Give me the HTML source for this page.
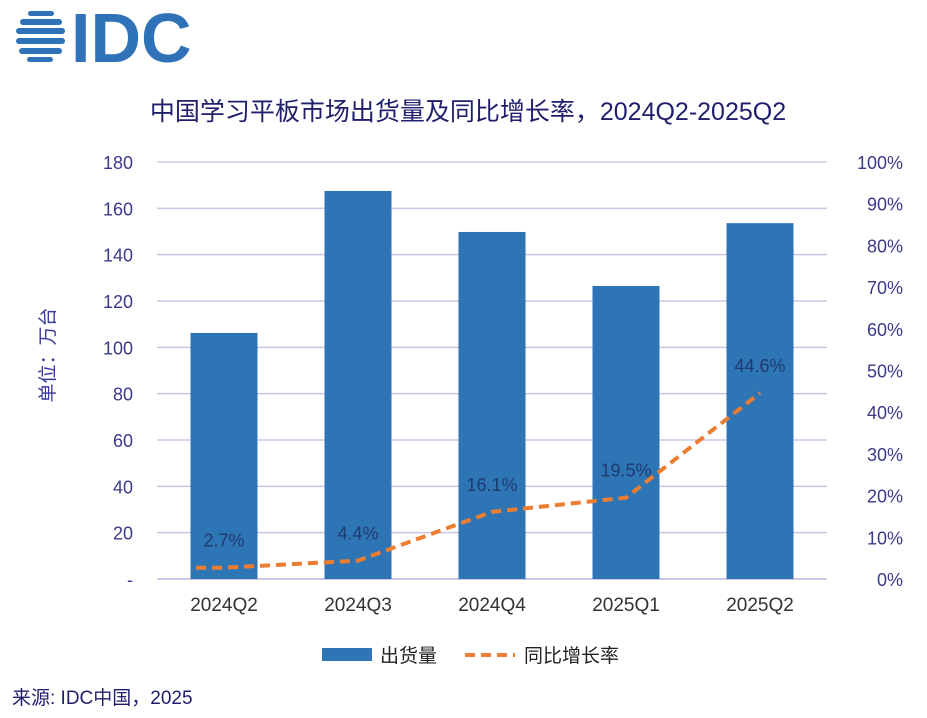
<!DOCTYPE html>
<html><head><meta charset="utf-8"><style>
body{margin:0;background:#fff;width:927px;height:713px;overflow:hidden;font-family:"Liberation Sans","Noto Sans CJK SC",sans-serif}
</style></head><body>
<svg width="927" height="713" viewBox="0 0 927 713" xmlns="http://www.w3.org/2000/svg">
<g fill="#2f72b8">
<rect x="28" y="11" width="26" height="5" rx="2.5"/><rect x="20" y="19" width="42" height="6" rx="3"/><rect x="16" y="28" width="49" height="6" rx="3"/><rect x="16" y="38" width="49" height="6" rx="3"/><rect x="19" y="48" width="43" height="6" rx="3"/><rect x="27" y="57" width="26" height="5" rx="2.5"/>
<text x="71" y="62" font-size="70" font-weight="bold" fill="#2f72b8" font-family="Liberation Sans,sans-serif">IDC</text>
</g>
<text x="468" y="120" text-anchor="middle" font-size="25" fill="#1f1f6e">中国学习平板市场出货量及同比增长率，2024Q2-2025Q2</text>
<g id="grid"></g><g id="bars"></g><g id="line"></g><g id="labels"></g>
<text transform="translate(54,355) rotate(-90)" text-anchor="middle" font-size="19" fill="#3a3a9a">单位：万台</text>
<g>
<rect x="322" y="648" width="50" height="13" fill="#2e75b6"/>
<text x="380" y="662" font-size="19" fill="#222">出货量</text>
<line x1="465" y1="655" x2="515" y2="655" stroke="#ed7d31" stroke-width="4" stroke-dasharray="10,6"/>
<text x="524" y="662" font-size="19" fill="#222">同比增长率</text>
</g>
<text x="12" y="704" font-size="19" fill="#1f1f6e">来源: IDC中国，2025</text>
</svg>
<script>
const categories=["2024Q2","2024Q3","2024Q4","2025Q1","2025Q2"];
const shipments=[106.2,167.5,149.8,126.5,153.6];
const growth=[2.7,4.4,16.1,19.5,44.6];
const growthLabels=["2.7%","4.4%","16.1%","19.5%","44.6%"];
const leftTicks=[0,20,40,60,80,100,120,140,160,180];
const rightTicks=[0,10,20,30,40,50,60,70,80,90,100];
const NS="http://www.w3.org/2000/svg";
const X0=157,X1=827,Y0=579,Y1=162;
const band=(X1-X0)/categories.length;
const xc=i=>X0+band*(i+0.5);
const yl=v=>Y0-(v/180)*(Y0-Y1);
const yr=v=>Y0-(v/100)*(Y0-Y1);
function mk(t,a,p,txt){const e=document.createElementNS(NS,t);for(const k in a)e.setAttribute(k,a[k]);if(txt!==undefined)e.textContent=txt;document.getElementById(p).appendChild(e);return e;}
leftTicks.forEach(v=>{
 const l=mk('line',{x1:X0,x2:X1,y1:yl(v),y2:yl(v),stroke:v===0?'#b8b8dc':'#c8c8e6','stroke-width':1.5},'grid');
 
 
 const t=mk('text',{x:133,y:yl(v)+7,'text-anchor':'end','font-size':18,fill:'#3a3a8a'},'grid',v===0?'-':String(v));
 
 
});
rightTicks.forEach(v=>{
 const t=mk('text',{x:903,y:yr(v)+7,'text-anchor':'end','font-size':18,fill:'#3a3a8a'},'grid',v+'%');
 
 
});
categories.forEach((c,i)=>{
 const t=mk('text',{x:xc(i),y:611,'text-anchor':'middle','font-size':19,fill:'#333'},'grid',c);
 
 
 const bw=67;
 const b=mk('rect',{x:xc(i)-bw/2,y:yl(shipments[i]),width:bw,height:Y0-yl(shipments[i]),fill:'#2e75b6'},'bars');
 
 
});
const pts=growth.map((g,i)=>[xc(i),yr(g)]);
let d='M'+(pts[0][0]-28)+','+pts[0][1]+' L'+pts.map(p=>p.join(',')).join(' L');
const ln=mk('path',{d:d,fill:'none',stroke:'#ed7d31','stroke-width':4,'stroke-dasharray':'10,6'},'line');


pts.forEach((p,i)=>{
 const t=mk('text',{x:p[0],y:p[1]-21,'text-anchor':'middle','font-size':18,fill:'#1f3a6e'},'labels',growthLabels[i]);
 
 
});
</script>
</body></html>
